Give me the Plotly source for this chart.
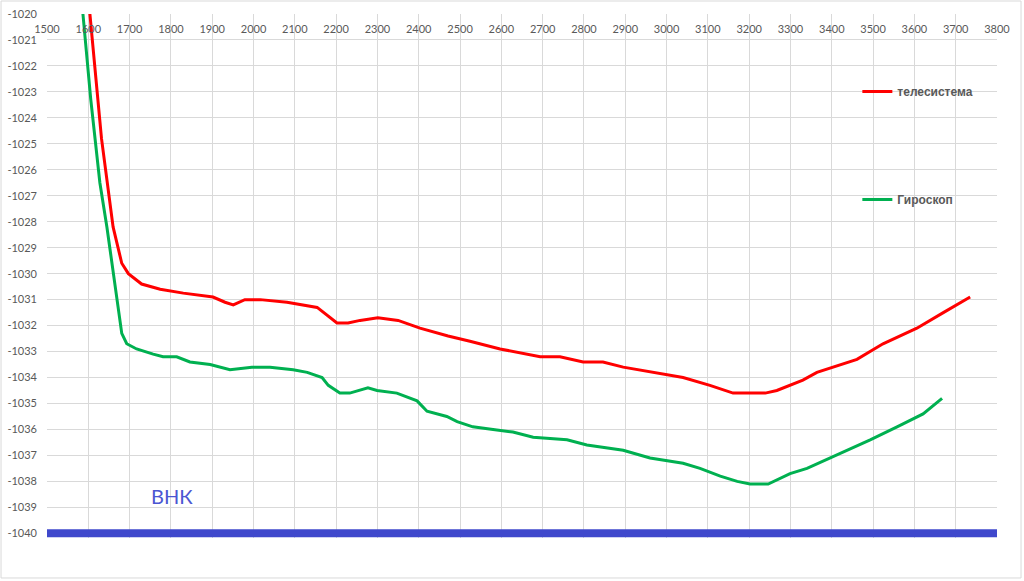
import plotly.graph_objects as go

# ---- data ----
tele_x = [1598, 1604, 1632, 1660, 1681, 1697, 1729, 1774, 1830, 1902, 1931, 1951, 1979, 2016,
          2081, 2154, 2202, 2229, 2258, 2301, 2350, 2403, 2471, 2524, 2597, 2694, 2742, 2798,
          2846, 2895, 2967, 3040, 3105, 3161, 3202, 3239, 3267, 3330, 3364, 3461, 3524, 3606,
          3670, 3735]
tele_y = [-1019.0, -1020.0, -1024.8, -1028.2, -1029.6, -1030.0, -1030.4, -1030.6, -1030.75,
          -1030.9, -1031.1, -1031.2, -1031.0, -1031.0, -1031.1, -1031.3, -1031.9, -1031.9,
          -1031.8, -1031.7, -1031.8, -1032.1, -1032.4, -1032.6, -1032.9, -1033.2, -1033.2,
          -1033.4, -1033.4, -1033.6, -1033.8, -1034.0, -1034.3, -1034.6, -1034.6, -1034.6,
          -1034.5, -1034.1, -1033.8, -1033.3, -1032.7, -1032.1, -1031.5, -1030.9]

gyro_x = [1582, 1587, 1606, 1628, 1645, 1665, 1681, 1693, 1717, 1757, 1781, 1814, 1846, 1895,
          1943, 1996, 2040, 2096, 2130, 2166, 2181, 2209, 2233, 2277, 2299, 2347, 2396, 2420,
          2468, 2493, 2531, 2580, 2628, 2677, 2759, 2807, 2846, 2895, 2960, 3040, 3081, 3130,
          3171, 3202, 3246, 3299, 3340, 3396, 3452, 3493, 3558, 3621, 3667]
gyro_y = [-1019.0, -1020.0, -1023.3, -1026.5, -1028.2, -1030.4, -1032.3, -1032.7, -1032.9,
          -1033.1, -1033.2, -1033.2, -1033.4, -1033.5, -1033.7, -1033.6, -1033.6, -1033.7,
          -1033.8, -1034.0, -1034.3, -1034.6, -1034.6, -1034.4, -1034.5, -1034.6, -1034.9,
          -1035.3, -1035.5, -1035.7, -1035.9, -1036.0, -1036.1, -1036.3, -1036.4, -1036.6,
          -1036.7, -1036.8, -1037.1, -1037.3, -1037.5, -1037.8, -1038.0, -1038.1, -1038.1,
          -1037.7, -1037.5, -1037.1, -1036.7, -1036.4, -1035.9, -1035.4, -1034.8]

vnk_x = [1500, 3800]
vnk_y = [-1040, -1040]
vnk_label = "ВНК"
vnk_label_x = 1803
vnk_label_y = -1038.55

x_ticks = list(range(1500, 3801, 100))
y_ticks = list(range(-1040, -1019, 1))

FONT = "Lato, 'Open Sans', sans-serif"
GRAY = "#595959"
GRID = "#d9d9d9"

fig = go.Figure()

fig.add_trace(go.Scatter(x=vnk_x, y=vnk_y, mode="lines", showlegend=False,
                         line=dict(color="#3f48cc", width=8), hoverinfo="skip",
                         xaxis="x2", yaxis="y"))
fig.add_trace(go.Scatter(x=tele_x, y=tele_y, mode="lines", name="телесистема",
                         line=dict(color="#ff0000", width=3), legend="legend"))
fig.add_trace(go.Scatter(x=gyro_x, y=gyro_y, mode="lines", name="Гироскоп",
                         line=dict(color="#00b050", width=3), legend="legend2"))

fig.add_annotation(x=vnk_label_x, y=vnk_label_y, text=vnk_label, showarrow=False,
                   font=dict(family=FONT, size=20, color="#4b56d2"))

legend_font = dict(family="'Liberation Sans', Arial, sans-serif", size=12, color=GRAY, weight="bold")

fig.update_layout(
    width=1024, height=581,
    margin=dict(l=47, r=27, t=14, b=43, autoexpand=False),
    paper_bgcolor="white", plot_bgcolor="white",
    font=dict(family=FONT, size=11, color=GRAY),
    legend=dict(x=0.853, y=0.852, xanchor="left", yanchor="middle",
                bgcolor="rgba(0,0,0,0)", font=legend_font, itemwidth=30),
    legend2=dict(x=0.853, y=0.646, xanchor="left", yanchor="middle",
                 bgcolor="rgba(0,0,0,0)", font=legend_font, itemwidth=30),
    xaxis=dict(range=[1500, 3800], tickvals=x_ticks, showticklabels=False,
               showgrid=True, gridcolor=GRID, gridwidth=1, zeroline=False,
               showline=False, ticks="", automargin=False),
    xaxis2=dict(range=[1500, 3800], overlaying="x", matches="x", anchor="free",
                position=0.99, side="bottom", tickvals=x_ticks,
                ticktext=[str(v) for v in x_ticks], ticklabelstandoff=2,
                showgrid=False, zeroline=False, showline=False, ticks="", automargin=False,
                tickfont=dict(family=FONT, size=11, color=GRAY)),
    yaxis=dict(range=[-1040.18, -1020], tickvals=y_ticks,
               ticktext=[str(v) for v in y_ticks],
               showgrid=True, gridcolor=GRID, gridwidth=1, zeroline=False,
               showline=False, ticks="", ticklabelstandoff=9, automargin=False,
               tickfont=dict(family=FONT, size=11, color=GRAY)),
    shapes=[dict(type="rect", xref="paper", yref="paper",
                 x0=-0.0484, x1=1.0253, y0=-0.0763, y1=1.0248,
                 line=dict(color=GRID, width=1), fillcolor="rgba(0,0,0,0)", layer="below")],
)

fig.write_html("out.html")
